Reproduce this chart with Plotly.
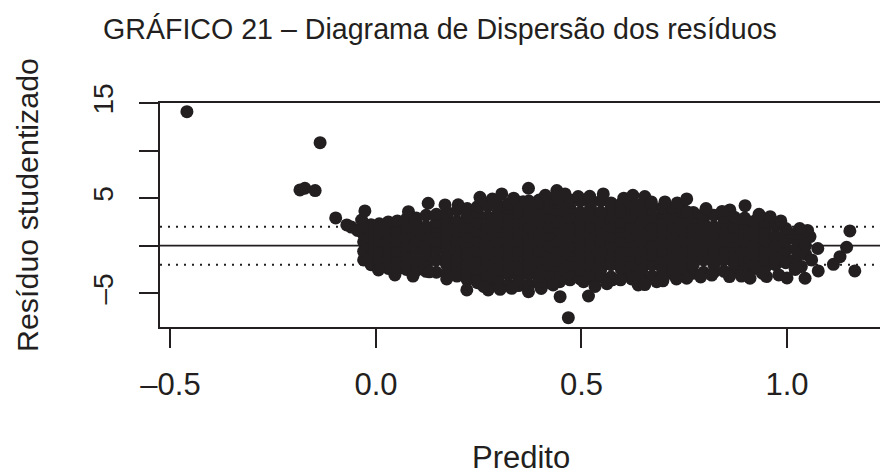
import plotly.graph_objects as go

# ---- data ----
# dense body of the cloud, organised by predicted value (column) -> studentized residuals
body_pred = [-0.030, -0.012, 0.008, 0.030, 0.052, 0.074, 0.098, 0.122, 0.147, 0.172,
             0.197, 0.222, 0.247, 0.272, 0.297, 0.322, 0.347, 0.372, 0.397, 0.422,
             0.447, 0.472, 0.497, 0.522, 0.547, 0.572, 0.597, 0.622, 0.647, 0.672,
             0.697, 0.722, 0.747, 0.772, 0.797, 0.822, 0.847, 0.872, 0.897, 0.922,
             0.947, 0.972, 0.997, 1.022, 1.045]
body_resid = [
    [-1.5, -0.6, 0.4, 1.2, 1.6],
    [-2.0, -1.1, -0.1, 0.9, 1.8, 2.2],
    [-2.3, -1.5, -0.5, 0.45, 1.4, 2.3],
    [-2.4, -1.9, -1.0, 0.05, 1.0, 1.95, 2.5],
    [-2.5, -1.5, -0.55, 0.5, 1.45, 2.6],
    [-2.5, -2.0, -1.05, 0.0, 0.95, 2.0, 2.8],
    [-2.6, -1.6, -0.5, 0.45, 1.5, 2.45, 2.9],
    [-2.7, -2.05, -0.95, 0.05, 1.05, 2.0, 3.2],
    [-2.8, -1.5, -0.45, 0.55, 1.5, 2.5, 3.3],
    [-3.0, -2.0, -1.0, 0.0, 1.0, 2.0, 3.0, 3.5],
    [-3.2, -2.45, -1.5, -0.5, 0.5, 1.5, 2.55, 3.7],
    [-3.6, -2.95, -2.0, -1.05, 0.0, 1.0, 2.05, 3.0, 3.9],
    [-3.9, -3.4, -2.5, -1.5, -0.5, 0.5, 1.5, 2.5, 3.5, 4.1],
    [-4.0, -3.0, -2.0, -1.0, 0.0, 1.0, 2.0, 3.05, 4.2],
    [-4.1, -3.5, -2.5, -1.5, -0.5, 0.5, 1.5, 2.5, 3.5, 4.3],
    [-4.1, -3.0, -2.0, -1.0, 0.0, 1.0, 2.0, 3.0, 3.95, 4.4],
    [-4.2, -3.5, -2.5, -1.5, -0.5, 0.5, 1.5, 2.5, 3.5, 4.5],
    [-4.1, -3.0, -2.0, -1.0, 0.0, 1.0, 2.0, 3.0, 4.0, 4.7],
    [-4.0, -3.5, -2.5, -1.5, -0.5, 0.5, 1.5, 2.5, 3.5, 4.5, 4.8],
    [-3.9, -3.0, -2.0, -1.0, 0.0, 1.0, 2.0, 3.0, 4.0, 4.9],
    [-3.8, -3.2, -2.5, -1.5, -0.5, 0.5, 1.5, 2.5, 3.5, 4.5, 4.9],
    [-3.6, -3.0, -2.0, -1.0, 0.0, 1.0, 2.0, 3.0, 4.0, 4.8],
    [-3.5, -2.5, -1.5, -0.5, 0.5, 1.5, 2.5, 3.5, 4.7],
    [-3.4, -3.0, -2.0, -1.0, 0.0, 1.0, 2.0, 3.0, 4.0, 4.7],
    [-3.3, -2.5, -1.5, -0.5, 0.5, 1.5, 2.5, 3.5, 4.7],
    [-3.3, -2.0, -1.0, 0.0, 1.0, 2.0, 3.0, 4.0, 4.5],
    [-3.4, -2.5, -1.5, -0.5, 0.5, 1.5, 2.5, 3.5, 4.4],
    [-3.5, -3.0, -2.0, -1.0, 0.0, 1.0, 2.0, 3.0, 4.0, 4.5],
    [-3.4, -2.5, -1.5, -0.5, 0.5, 1.5, 2.5, 3.5, 4.4],
    [-3.2, -2.0, -1.0, 0.0, 1.0, 2.0, 3.0, 4.1],
    [-3.1, -2.5, -1.5, -0.5, 0.5, 1.5, 2.5, 3.5, 4.0],
    [-3.0, -2.0, -1.0, 0.0, 1.0, 2.0, 3.0, 3.9],
    [-3.0, -2.5, -1.5, -0.5, 0.5, 1.5, 2.5, 3.5, 3.8],
    [-2.9, -2.0, -1.0, 0.0, 1.0, 2.0, 3.0, 3.5],
    [-2.8, -1.5, -0.5, 0.5, 1.5, 2.5, 3.3],
    [-2.8, -2.0, -1.0, 0.0, 1.0, 2.0, 3.2],
    [-2.7, -1.5, -0.5, 0.5, 1.5, 2.5, 3.0],
    [-2.6, -2.0, -1.0, 0.0, 1.0, 2.0, 3.0],
    [-2.5, -1.5, -0.5, 0.5, 1.5, 2.5, 2.9],
    [-2.4, -2.0, -1.0, 0.0, 1.0, 2.0, 2.6],
    [-2.3, -1.5, -0.5, 0.5, 1.5, 2.4],
    [-2.0, -1.0, 0.0, 1.0, 2.1],
    [-1.8, -1.4, -0.5, 0.5, 1.4, 1.8],
    [-1.4, -0.4, 0.6, 1.3],
    [-0.9, 0.0, 0.8],
]

# scattered points at the fringe of the cloud and the outliers
fringe_pred = [-0.460, -0.136, -0.185, -0.173, -0.148, -0.098, -0.071, -0.060, -0.045,
               -0.027, -0.035, 0.079, 0.127, 0.168, 0.253, 0.306, 0.358, 0.371, 0.440,
               0.460, 0.492, 0.553, 0.654, 0.670, 0.756, 0.756, 0.898, 0.959, 0.861,
               1.056, 1.050, 0.006, 0.046, 0.130, 0.221, 0.273, 0.330, 0.371, 0.431,
               0.448, 0.468, 0.505, 0.517, 0.533, 0.575, 0.595, 0.638, 0.654, 0.698,
               0.756, 0.817, 0.860, 0.910, 0.950, 0.980, 1.000, 1.044, 1.076, 1.113,
               1.129, 1.145, 1.153, 1.165, 1.075, 1.060, 1.020,
               0.200, 0.283, 0.335, 0.412, 0.520, 0.603, 0.625, 0.703, 0.733, 0.803,
               0.842, 0.932, 0.985, 1.031,
               0.090, 0.172, 0.262, 0.302, 0.402, 0.562, 0.683, 0.731, 0.790, 0.889,
               0.940, 1.035]
fringe_resid = [14.1, 10.84, 5.86, 6.04, 5.79, 2.92, 2.18, 1.95, 1.60,
                3.65, 2.70, 3.58, 4.46, 4.28, 5.09, 5.44, 4.63, 6.04, 5.79,
                5.44, 5.16, 5.44, 5.16, 4.60, 4.92, 3.58, 4.21, 3.05, 3.76,
                0.95, 1.60, -2.56, -3.08, -2.75, -4.66, -4.66, -4.49, -4.84, -4.14,
                -5.37, -7.58, -3.79, -5.30, -4.30, -3.60, -3.60, -4.14, -4.10, -3.70,
                -3.43, -3.10, -3.25, -3.43, -3.25, -3.08, -3.40, -3.43, -2.66, -1.96,
                -1.16, -0.17, 1.55, -2.66, -0.30, -1.50, -2.50,
                4.30, 4.90, 5.00, 5.30, 5.20, 5.00, 5.30, 4.60, 4.50, 3.90,
                3.60, 3.30, 2.60, 1.80,
                -3.20, -3.50, -4.30, -4.60, -4.50, -4.00, -3.80, -3.50, -3.30, -3.20,
                -2.90, -2.20]

x_ticks = [-0.5, 0.0, 0.5, 1.0]
x_tick_text = ["\u20130.5", "0.0", "0.5", "1.0"]
y_ticks = [-5, 0, 5, 10, 15]
y_tick_text = ["\u20135", "", "5", "", "15"]
ref_lines = [-2, 0, 2]

# ---- build ----
predito, residuo = [], []
for xv, ys in zip(body_pred, body_resid):
    for yv in ys:
        predito.append(xv)
        residuo.append(yv)
predito += fringe_pred
residuo += fringe_resid

INK = "#231f20"
FONT = "Liberation Sans, Arial, Helvetica, sans-serif"

fig = go.Figure()
fig.add_trace(go.Scatter(x=predito, y=residuo, mode="markers",
                         marker=dict(size=13, color=INK, line=dict(width=0)),
                         hoverinfo="skip", showlegend=False))

for v in ref_lines:
    fig.add_shape(type="line", xref="paper", x0=0, x1=1, yref="y", y0=v, y1=v,
                  line=dict(color=INK, width=1.6 if v == 0 else 2,
                            dash="solid" if v == 0 else "2px,6px"),
                  layer="below")

fig.update_layout(
    width=880, height=476,
    margin=dict(l=160, r=0, t=103, b=149, pad=0),
    paper_bgcolor="white", plot_bgcolor="white",
    font=dict(family=FONT, color=INK),
    xaxis=dict(range=[-0.5255, 1.2263], tickvals=x_ticks, ticktext=x_tick_text,
               ticks="outside", ticklen=19, tickwidth=2, tickcolor=INK,
               showline=True, linewidth=2, linecolor=INK, mirror=True,
               showgrid=False, zeroline=False, tickfont=dict(size=31),
               ticklabelstandoff=10),
    yaxis=dict(range=[-8.56, 15.01], tickvals=y_ticks, ticktext=y_tick_text,
               tickangle=-90,
               ticks="outside", ticklen=19, tickwidth=2, tickcolor=INK,
               showline=True, linewidth=2, linecolor=INK, mirror=False,
               showgrid=False, zeroline=False, tickfont=dict(size=28),
               ticklabelstandoff=15),
    annotations=[
        dict(text="GR\u00c1FICO 21 \u2013 Diagrama de Dispers\u00e3o dos res\u00edduos",
             xref="paper", yref="paper", x=(440 - 160) / 720, y=1 + (103 - 29) / 224,
             xanchor="center", yanchor="middle", showarrow=False,
             font=dict(size=28.6, color=INK)),
        dict(text="Predito", xref="paper", yref="paper",
             x=(521 - 160) / 720, y=-(457 - 327) / 224,
             xanchor="center", yanchor="middle", showarrow=False,
             font=dict(size=31, color=INK)),
        dict(text="Res\u00edduo studentizado",
             xref="paper", yref="paper", textangle=-90,
             x=-(160 - 27) / 720, y=1 - (205 - 103) / 224,
             xanchor="center", yanchor="middle", showarrow=False,
             font=dict(size=30.4, color=INK)),
    ],
)

fig.write_html("out.html")
